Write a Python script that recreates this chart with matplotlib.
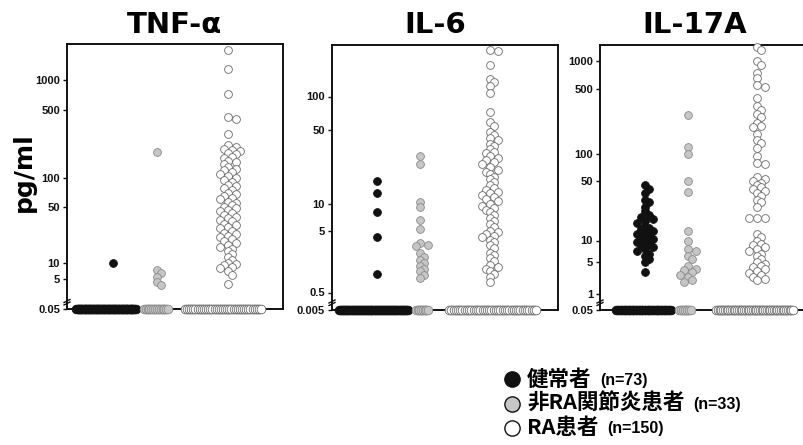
import numpy as np
import matplotlib
matplotlib.use("Agg")
import matplotlib.pyplot as plt
from matplotlib.lines import Line2D
from matplotlib.ticker import NullLocator

# ---------------- data ----------------
panel_titles = ["TNF-α", "IL-6", "IL-17A"]
group_labels = ["健常者", "非RA関節炎患者", "RA患者"]
group_n = [73, 33, 150]
y_label = "pg/ml"

# detected values (pg/ml); the rest of each group sits on the detection floor
tnf_healthy = [10]
tnf_nonra = [185, 7.5, 6.5, 5.5, 4.3, 3.8]
tnf_ra = [2000, 1300, 720, 420, 400, 280, 220, 210, 200, 195, 190, 180, 175, 165,
          160, 150, 145, 140, 130, 125, 120, 115, 110, 105, 100, 95, 90, 85, 82,
          78, 75, 70, 68, 65, 62, 60, 57, 55, 52, 50, 48, 46, 44, 42, 40, 38, 36,
          34, 33, 31, 30, 28, 27, 25, 24, 23, 22, 21, 20, 19, 18, 17, 16, 15, 14,
          13, 12, 11, 10, 9.5, 9, 8.5, 8, 7, 6, 4]

il6_healthy = [16.5, 12.5, 8, 4, 1]
il6_nonra = [28, 24, 10.3, 9.2, 6.6, 5.3, 3.2, 3.0, 2.8, 2.2, 1.9, 1.7, 1.5,
             1.35, 1.2, 1.1, 0.95, 0.85]
il6_ra = [265, 260, 195, 145, 135, 125, 108, 73, 59, 54, 48, 45, 42, 40, 37, 35,
          33, 31, 30, 28, 27, 26, 25, 24, 22, 21, 20, 19, 18, 17, 16, 15, 14,
          13.5, 13, 12.5, 12, 11.5, 11, 10.5, 10, 9.5, 9, 8.5, 8, 7.5, 7, 6.5, 6,
          5.5, 5, 4.8, 4.5, 4.2, 4, 3.6, 3.3, 3, 2.6, 2.2, 2.0, 1.8, 1.6, 1.4,
          1.3, 1.2, 1.1, 1.0, 0.9, 0.75]

il17_healthy = [45, 40, 36, 30, 28, 25, 22, 20, 19, 18, 17, 16, 15, 14, 13.5, 13,
                12.5, 12, 11.5, 11, 10.5, 10, 9.5, 9, 8.5, 8, 7.5, 7, 6.5, 6, 5.5,
                5, 3]
il17_nonra = [260, 120, 100, 50, 37, 13, 10, 7.5, 7, 6, 5.5, 3.9, 3.5, 3.2, 2.9,
              2.6, 2.3, 2.0, 1.8]
il17_ra = [1400, 1300, 1000, 900, 750, 650, 550, 520, 400, 330, 300, 270, 250,
           215, 200, 195, 165, 140, 130, 115, 95, 80, 78, 55, 52, 50, 48, 45, 42,
           40, 38, 36, 33, 30, 28, 25, 18.5, 18.5, 18.5, 12, 11, 10, 9, 8.5, 8,
           7.5, 7, 6.5, 6, 5.5, 5, 4.5, 4, 3.7, 3.4, 3.1, 2.8, 2.5, 2.3, 2.1, 2.0]

floors = [0.05, 0.005, 0.05]
tick_values = [[0.05, 5, 10, 50, 100, 500, 1000],
               [0.005, 0.5, 5, 10, 50, 100],
               [0.05, 1, 5, 10, 50, 100, 500, 1000]]
tick_labels = [["0.05", "5", "10", "50", "100", "500", "1000"],
               ["0.005", "0.5", "5", "10", "50", "100"],
               ["0.05", "1", "5", "10", "50", "100", "500", "1000"]]

detected = [[tnf_healthy, tnf_nonra, tnf_ra],
            [il6_healthy, il6_nonra, il6_ra],
            [il17_healthy, il17_nonra, il17_ra]]

# ---------------- layout / style ----------------
W, H = 804, 445
fig = plt.figure(figsize=(W / 100, H / 100), dpi=100)
fig.patch.set_facecolor("white")

# panel boxes in pixels: left, right, top, bottom
boxes = [(67, 283, 44, 309), (332, 558, 45, 309.5), (600, 825, 45, 309.5)]
# broken-log axis calibration (log10 value -> pixel height above baseline)
calib = [
    ([np.log10(0.05), np.log10(2), np.log10(5), 1, np.log10(50), 2, np.log10(500), 3, 4],
     [0, 9, 30, 46, 102, 131, 199, 229, 329]),
    ([np.log10(0.005), np.log10(0.5), np.log10(5), 1, np.log10(50), 2, 3],
     [0, 17, 78.5, 106, 179.5, 213, 323]),
    ([np.log10(0.05), 0, np.log10(5), 1, np.log10(50), 2, np.log10(500), 3, 4],
     [0, 16, 48, 69, 128.5, 155.5, 220.5, 248.5, 341]),
]
col_x = [[0.213, 0.417, 0.745], [0.199, 0.389, 0.699], [0.20, 0.391, 0.698]]
floor_rng = [[(0.042, 0.319), (0.356, 0.468), (0.546, 0.898)],
             [(0.031, 0.336), (0.372, 0.425), (0.518, 0.903)],
             [(0.071, 0.316), (0.351, 0.404), (0.516, 0.858)]]
title_cx = [175, 435, 695]

faces = ["#111111", "#c6c6c6", "#ffffff"]
edges = ["#111111", "#8a8a8a", "#6a6a6a"]
MS = 5.6
DIAM = MS * 100 / 72.0


def fx(x):
    return x / W


def fy(y):
    return 1 - y / H


def make_scale(logs, pix):
    logs = np.asarray(logs, float)
    pix = np.asarray(pix, float)

    def fwd(v):
        v = np.asarray(v, float)
        return np.interp(np.log10(np.clip(v, 1e-9, None)), logs, pix)

    def inv(p):
        return 10 ** np.interp(np.asarray(p, float), pix, logs)
    return fwd, inv


def swarm(ax, xc, vals):
    vals = np.asarray(vals, float)
    pts = ax.transData.transform(np.column_stack([np.full(len(vals), xc), vals]))
    x0 = pts[0, 0]
    order = np.argsort(-vals, kind="stable")
    placed = []
    xs = np.zeros(len(vals))
    step = DIAM * 0.5
    offs = [0.0]
    for j in range(1, 30):
        offs += [j * step, -j * step]
    for i in order:
        y = pts[i, 1]
        for off in offs:
            x = x0 + off
            if all((x - px) ** 2 + (y - py) ** 2 >= (DIAM * 0.58) ** 2 for px, py in placed):
                break
        placed.append((x, y))
        xs[i] = x
    back = ax.transData.inverted().transform(np.column_stack([xs, pts[:, 1]]))
    return back[:, 0]


def floor_rows(ax, lo, hi, n, floor_val):
    """Lay n non-detected points along the baseline in two staggered rows."""
    n1 = (n + 1) // 2
    n2 = n - n1
    x_a = np.linspace(lo, hi, n1)
    x_b = np.linspace(lo + 0.01, hi - 0.01, n2) if n2 > 0 else np.array([])
    base = ax.transData.transform([[0.5, floor_val]])[0, 1]
    y_low = ax.transData.inverted().transform([[0.5, base - 2.5]])[0, 1]
    return (x_b, np.full(n2, y_low)), (x_a, np.full(n1, floor_val))


tick_font = dict(family="Liberation Sans", weight="bold", size=8)

for p in range(3):
    l, r, t, b = boxes[p]
    ax = fig.add_axes([fx(l), fy(b), (r - l) / W, (b - t) / H])
    fwd, inv = make_scale(*calib[p])
    ax.set_yscale("function", functions=(fwd, inv))
    ax.set_ylim(floors[p], inv(b - t))
    ax.set_xlim(0, 1)
    ax.set_xticks([])
    ax.yaxis.set_minor_locator(NullLocator())
    ax.set_yticks(tick_values[p])
    ax.set_yticklabels(tick_labels[p], fontdict=tick_font)
    ax.tick_params(axis="y", direction="out", length=3, width=1, pad=2, colors="#111111")
    for s in ax.spines.values():
        s.set_linewidth(1.4)
        s.set_color("#111111")
    ax.patch.set_alpha(0)

    for g in range(3):
        vals = detected[p][g]
        n_floor = group_n[g] - len(vals)
        lo, hi = floor_rng[p][g]
        for xs_f, ys_f in floor_rows(ax, lo, hi, n_floor, floors[p]):
            ax.plot(xs_f, ys_f, "o", ms=MS + 0.6, mfc=faces[g], mec=edges[g],
                    mew=0.6, clip_on=False, zorder=3)
        xs = swarm(ax, col_x[p][g], vals)
        ax.plot(xs, vals, "o", ms=MS, mfc=faces[g], mec=edges[g], mew=0.6,
                clip_on=False, zorder=3)

    # axis break mark on the left spine near the baseline
    yb = b - 8
    fig.add_artist(Line2D([fx(l - 3), fx(l + 3)], [fy(yb + 1.5), fy(yb - 1.5)],
                          color="#111111", lw=1.0))
    fig.add_artist(Line2D([fx(l - 3), fx(l + 3)], [fy(yb + 4), fy(yb + 1)],
                          color="#111111", lw=1.0))

    fig.text(fx(title_cx[p]), fy(33), panel_titles[p], ha="center", va="baseline",
             fontsize=21, fontweight="bold", family="DejaVu Sans")

fig.text(fx(24), fy(172), y_label, rotation=90, ha="center", va="center",
         fontsize=18, fontweight="bold", family="DejaVu Sans")

# ---------------- legend ----------------
rows_y = [379, 403.5, 428]
renderer = fig.canvas.get_renderer()
for g in range(3):
    fig.add_artist(Line2D([fx(512)], [fy(rows_y[g])], marker="o", ms=11,
                          mfc=faces[g], mec="#111111", mew=1.0, ls="none"))
    t1 = fig.text(fx(527), fy(rows_y[g]), group_labels[g], ha="left", va="center",
                  fontsize=15.5, fontweight="bold",
                  family=["Noto Sans CJK JP", "DejaVu Sans"])
    ext = t1.get_window_extent(renderer=renderer)
    fig.text((ext.x1 + 9) / W, fy(rows_y[g] + 1), f"(n={group_n[g]})", ha="left",
             va="center", fontsize=11.5, fontweight="bold", family="Liberation Sans")

fig.savefig("out.png", dpi=100, facecolor="white")
